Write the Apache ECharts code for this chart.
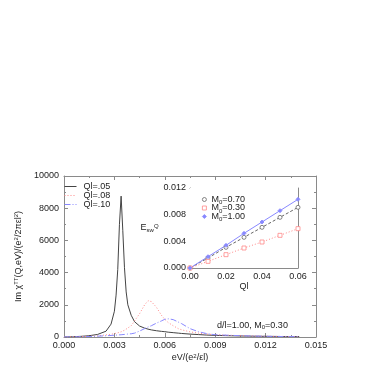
<!DOCTYPE html>
<html>
<head>
<meta charset="utf-8">
<script src="https://cdn.jsdelivr.net/npm/echarts@6/dist/echarts.min.js"></script>
<style>
html, body { margin: 0; padding: 0; background: #fff; }
#chart { width: 382px; height: 382px; }
</style>
</head>
<body>
<div id="chart"></div>
<script>
// main panel: energy grid and the three spectra
var eV = [0, 0.0005, 0.001, 0.0015, 0.002, 0.0025, 0.0028, 0.003, 0.0031, 0.0032, 0.0033, 0.0034,
  0.0035, 0.0036, 0.0037, 0.0038, 0.004, 0.0042, 0.0045, 0.0048, 0.005, 0.0052, 0.0055, 0.0058,
  0.006, 0.0062, 0.0065, 0.0068, 0.007, 0.0075, 0.008, 0.0085, 0.009, 0.01, 0.011, 0.012, 0.013, 0.014];
var ql05 = [0, 15, 40, 80, 160, 360, 800, 1600, 2600, 4200, 7000, 8750,
  6600, 4300, 2800, 2000, 1350, 950, 680, 550, 490, 440, 390, 350,
  330, 300, 270, 240, 220, 180, 150, 120, 100, 75, 55, 40, 30, 25];
var ql08 = [0, 10, 25, 45, 80, 130, 170, 210, 230, 260, 290, 320,
  360, 420, 490, 560, 700, 1000, 1450, 2000, 2250, 2200, 1850, 1350,
  1100, 900, 700, 520, 450, 320, 240, 180, 140, 95, 65, 45, 35, 25];
var ql10 = [0, 5, 15, 30, 50, 80, 95, 110, 118, 125, 133, 140,
  150, 160, 172, 185, 200, 240, 370, 520, 620, 700, 860, 1000,
  1100, 1130, 1080, 930, 830, 520, 330, 210, 140, 100, 65, 45, 30, 20];
var mainNames = ['Ql=.05', 'Ql=.08', 'Ql=.10'];

// inset: E_sw^Q against Ql
var qlInset = [0, 0.01, 0.02, 0.03, 0.04, 0.05, 0.06];
var m070 = [0, 0.0015, 0.0031, 0.0046, 0.0061, 0.0076, 0.0091];
var m030 = [0, 0.0010, 0.0020, 0.0030, 0.0039, 0.0049, 0.0059];
var m100 = [0, 0.0017, 0.0034, 0.0052, 0.0069, 0.0086, 0.0103];
var insetNames = ['M0=0.70', 'M0=0.30', 'M0=1.00'];

function pairs(xs, ys) {
  return xs.map(function (x, i) { return [x, ys[i]]; });
}

var font = 'Liberation Sans';
var frame = '#8a8a8a';
var txt = '#222';
var sup = { fontSize: 6, verticalAlign: 'bottom', padding: [0, 0, 4, 0], fontFamily: font, color: txt };
var sub = { fontSize: 6, verticalAlign: 'top', padding: [4, 0, 0, 0], fontFamily: font, color: txt };

function axisBase(grid, pos, min, max, interval, showLabel, fmt) {
  return {
    type: 'value', gridIndex: grid, position: pos, min: min, max: max, interval: interval,
    axisLine: { show: true, onZero: false, lineStyle: { color: frame, width: 1 } },
    axisTick: { show: true, inside: true, length: 4, lineStyle: { color: frame } },
    minorTick: { show: true, splitNumber: 2, length: 2, lineStyle: { color: frame } },
    splitLine: { show: false },
    axisLabel: {
      show: showLabel, color: txt, fontSize: 9, fontFamily: font, margin: 4,
      formatter: fmt
    }
  };
}

var chart = echarts.init(document.getElementById('chart'));

var xMain = axisBase(0, 'bottom', 0, 0.015, 0.003, true, function (v) { return v.toFixed(3); });
xMain.name = 'eV/(e{sup|2}/εl)';
xMain.nameLocation = 'middle';
xMain.nameGap = 16;
xMain.nameTextStyle = { color: txt, fontSize: 9, fontFamily: font, rich: { sup: sup } };

var yMain = axisBase(0, 'left', 0, 10000, 2000, true, function (v) { return String(v); });
yMain.axisLabel.margin = 5;
yMain.name = 'Im χ{sup|TT}(Q,eV)/(e{sup|2}/2πεl{sup|2})';
yMain.nameLocation = 'middle';
yMain.nameGap = 37;
yMain.nameTextStyle = { color: txt, fontSize: 9, fontFamily: font, rich: { sup: sup } };

var xIn = axisBase(1, 'bottom', 0, 0.06, 0.02, true, function (v) { return v.toFixed(2); });
xIn.name = 'Ql';
xIn.nameLocation = 'middle';
xIn.nameGap = 13;
xIn.nameTextStyle = { color: txt, fontSize: 9, fontFamily: font };

var yIn = axisBase(1, 'left', 0, 0.012, 0.004, true, function (v) { return v.toFixed(3); });
yIn.name = 'E{sub|sw}{sup|Q}';
yIn.nameLocation = 'middle';
yIn.nameRotate = 0;
yIn.nameGap = 22;
yIn.nameTextStyle = { color: txt, fontSize: 9, fontFamily: font, rich: { sup: sup, sub: sub } };

chart.setOption({
  animation: false,
  backgroundColor: '#fff',
  grid: [
    { left: 64, top: 176, width: 252, height: 161 },
    { left: 190, top: 188, width: 108, height: 80, show: true, backgroundColor: '#fff', borderWidth: 0, z: 3 }
  ],
  xAxis: [
    xMain,
    axisBase(0, 'top', 0, 0.015, 0.003, false),
    xIn,
    axisBase(1, 'top', 0, 0.06, 0.02, false)
  ],
  yAxis: [
    yMain,
    axisBase(0, 'right', 0, 10000, 2000, false),
    yIn,
    axisBase(1, 'right', 0, 0.012, 0.004, false)
  ],
  legend: [
    {
      left: 64, top: 182, orient: 'vertical', itemWidth: 12, itemHeight: 6, itemGap: 0,
      padding: 0,
      data: mainNames,
      itemStyle: { color: 'rgba(0,0,0,0)', borderColor: 'rgba(0,0,0,0)', borderWidth: 0 },
      lineStyle: { width: 1 },
      textStyle: { fontSize: 9, fontFamily: font, color: txt, lineHeight: 8, padding: [0, 0, 0, 2] }
    },
    {
      left: 202, top: 195, orient: 'vertical', itemWidth: 4, itemHeight: 4, itemGap: -2,
      padding: 0,
      data: [
        { name: insetNames[0], icon: 'circle' },
        { name: insetNames[1], icon: 'rect' },
        { name: insetNames[2], icon: 'diamond' }
      ],
      itemStyle: { borderWidth: 0.8 },
      textStyle: { fontSize: 9, fontFamily: font, color: txt, lineHeight: 8, rich: { s: sub } },
      formatter: function (name) { return name.replace('M0', 'M{s|0}'); }
    }
  ],
  graphic: [{
    type: 'text', left: 217, top: 321, z: 10,
    style: {
      text: 'd/l=1.00, M{s|0}=0.30', fontSize: 9, fontFamily: font, fill: txt,
      rich: { s: { fontSize: 6, verticalAlign: 'top', padding: [4, 0, 0, 0], fontFamily: font, fill: txt } }
    }
  }],
  series: [
    { name: mainNames[0], type: 'line', xAxisIndex: 0, yAxisIndex: 0, symbol: 'none', data: pairs(eV, ql05),
      lineStyle: { color: '#444', width: 1 }, itemStyle: { color: '#444' } },
    { name: mainNames[1], type: 'line', xAxisIndex: 0, yAxisIndex: 0, symbol: 'none', data: pairs(eV, ql08),
      lineStyle: { color: '#f88', width: 1, type: [1, 2] }, itemStyle: { color: '#f88' } },
    { name: mainNames[2], type: 'line', xAxisIndex: 0, yAxisIndex: 0, symbol: 'none', data: pairs(eV, ql10),
      lineStyle: { color: '#88f', width: 1, type: [6, 2, 1, 2] }, itemStyle: { color: '#88f' } },
    { name: insetNames[0], type: 'line', xAxisIndex: 2, yAxisIndex: 2, z: 5, symbol: 'circle', symbolSize: 4,
      data: pairs(qlInset, m070),
      lineStyle: { color: '#666', width: 1, type: [3, 2] },
      itemStyle: { color: '#fff', borderColor: '#666', borderWidth: 0.8 } },
    { name: insetNames[1], type: 'line', xAxisIndex: 2, yAxisIndex: 2, z: 5, symbol: 'rect', symbolSize: 4,
      data: pairs(qlInset, m030),
      lineStyle: { color: '#f88', width: 1, type: [1, 2] },
      itemStyle: { color: '#fff', borderColor: '#f88', borderWidth: 0.8 } },
    { name: insetNames[2], type: 'line', xAxisIndex: 2, yAxisIndex: 2, z: 5, symbol: 'diamond', symbolSize: 4,
      data: pairs(qlInset, m100),
      lineStyle: { color: '#88f', width: 1 },
      itemStyle: { color: '#88f', borderColor: '#88f', borderWidth: 0.8 } }
  ]
});
</script>
</body>
</html>
